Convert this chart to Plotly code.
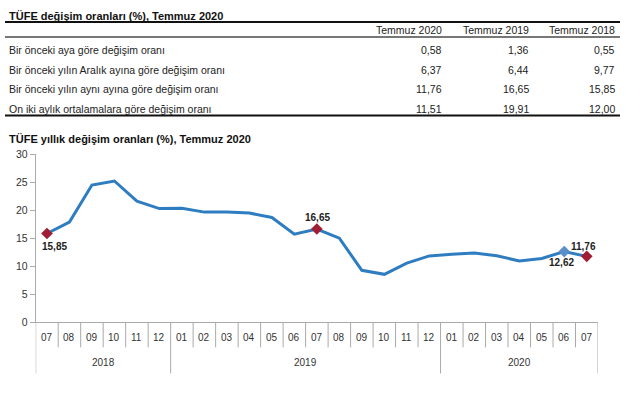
import plotly.graph_objects as go

# ---------------- data ----------------
table_title = "TÜFE değişim oranları (%), Temmuz 2020"
table_cols = ["Temmuz 2020", "Temmuz 2019", "Temmuz 2018"]
table_rows = [
    "Bir önceki aya göre değişim oranı",
    "Bir önceki yılın Aralık ayına göre değişim oranı",
    "Bir önceki yılın aynı ayına göre değişim oranı",
    "On iki aylık ortalamalara göre değişim oranı",
]
col_2020 = [0.58, 6.37, 11.76, 11.51]
col_2019 = [1.36, 6.44, 16.65, 19.91]
col_2018 = [0.55, 9.77, 15.85, 12.00]

chart_title = "TÜFE yıllık değişim oranları (%), Temmuz 2020"
months = ["07", "08", "09", "10", "11", "12",
          "01", "02", "03", "04", "05", "06", "07", "08", "09", "10", "11", "12",
          "01", "02", "03", "04", "05", "06", "07"]
years = ["2018", "2019", "2020"]
year_counts = [6, 12, 7]
annual_change = [15.85, 17.90, 24.52, 25.24, 21.62, 20.30,
                 20.35, 19.67, 19.71, 19.50, 18.71, 15.72, 16.65, 15.01, 9.26, 8.55, 10.56, 11.84,
                 12.15, 12.37, 11.86, 10.94, 11.39, 12.62, 11.76]
red_idx = [0, 12, 24]
blue_idx = [23]

# ---------------- helpers ----------------
W, H = 640, 396
FONT = "Liberation Sans, Arial, sans-serif"


def px(x):
    return x / W


def py(y):
    return 1 - y / H


def fmt(v):
    return f"{v:.2f}".replace(".", ",")


fig = go.Figure()
xs = list(range(len(months)))

fig.add_trace(go.Scatter(x=xs, y=annual_change, mode="lines",
                         line=dict(color="#2F7DC1", width=3), hoverinfo="skip"))
fig.add_trace(go.Scatter(x=[xs[i] for i in red_idx], y=[annual_change[i] for i in red_idx],
                         mode="markers", marker=dict(symbol="diamond", size=9, color="#A11D33"),
                         hoverinfo="skip"))
fig.add_trace(go.Scatter(x=[xs[i] for i in blue_idx], y=[annual_change[i] for i in blue_idx],
                         mode="markers", marker=dict(symbol="diamond", size=9, color="#5B8FCB"),
                         hoverinfo="skip"))

ann = []
shapes = []

# ---------------- table ----------------
ann.append(dict(x=px(7), y=py(10), xref="paper", yref="paper", text=f"<b>{table_title}</b>",
                showarrow=False, xanchor="left", yanchor="middle",
                font=dict(family=FONT, size=11, color="#111")))
shapes.append(dict(type="line", xref="paper", yref="paper", x0=px(5), x1=px(620),
                   y0=py(16.5), y1=py(16.5), line=dict(color="#111", width=2)))
shapes.append(dict(type="line", xref="paper", yref="paper", x0=px(5), x1=px(620),
                   y0=py(32), y1=py(32), line=dict(color="#777", width=2)))
shapes.append(dict(type="line", xref="paper", yref="paper", x0=px(5), x1=px(620),
                   y0=py(113), y1=py(113), line=dict(color="#111", width=2)))
col_right = [444, 531, 617]
for c, name in enumerate(table_cols):
    ann.append(dict(x=px(col_right[c]), y=py(24.5), xref="paper", yref="paper", text=name,
                    showarrow=False, xanchor="right", yanchor="middle",
                    font=dict(family=FONT, size=10.5, color="#222")))
row_y = [45, 66, 86, 106]
for r, label in enumerate(table_rows):
    ann.append(dict(x=px(7), y=py(row_y[r]), xref="paper", yref="paper", text=label,
                    showarrow=False, xanchor="left", yanchor="middle",
                    font=dict(family=FONT, size=10.5, color="#222")))
    for c, col in enumerate([col_2020, col_2019, col_2018]):
        ann.append(dict(x=px(col_right[c]), y=py(row_y[r]), xref="paper", yref="paper",
                        text=fmt(col[r]), showarrow=False, xanchor="right", yanchor="middle",
                        font=dict(family=FONT, size=10.5, color="#222")))

# ---------------- chart ----------------
ann.append(dict(x=px(7), y=py(137), xref="paper", yref="paper", text=f"<b>{chart_title}</b>",
                showarrow=False, xanchor="left", yanchor="middle",
                font=dict(family=FONT, size=11, color="#111")))

# month labels and dividers
for i, m in enumerate(months):
    ann.append(dict(x=i, y=py(341.5), xref="x", yref="paper", text=m, showarrow=False,
                    xanchor="center", yanchor="middle",
                    font=dict(family=FONT, size=10, color="#333")))
year_bounds = [-0.5]
for n in year_counts:
    year_bounds.append(year_bounds[-1] + n)
for i in range(1, len(months)):
    b = i - 0.5
    if b in year_bounds:
        continue
    shapes.append(dict(type="line", xref="x", yref="paper", x0=b, x1=b,
                       y0=py(326), y1=py(352), line=dict(color="#AAAAAA", width=1)))
for b in year_bounds:
    shapes.append(dict(type="line", xref="x", yref="paper", x0=b, x1=b,
                       y0=py(326), y1=py(379), line=dict(color="#AAAAAA", width=1)))
for k, yr in enumerate(years):
    ann.append(dict(x=(year_bounds[k] + year_bounds[k + 1]) / 2, y=py(367.5), xref="x", yref="paper",
                    text=yr, showarrow=False, xanchor="center", yanchor="middle",
                    font=dict(family=FONT, size=10, color="#333")))

# data labels
label_offsets = {0: (8, -13), 12: (1, 12), 23: (-3, -11), 24: (-3, 10)}
for i, (dx, dy) in label_offsets.items():
    ann.append(dict(x=i, y=annual_change[i], xref="x", yref="y", text=f"<b>{fmt(annual_change[i])}</b>",
                    showarrow=False, xanchor="center", yanchor="middle", xshift=dx, yshift=dy,
                    font=dict(family=FONT, size=10, color="#222")))

fig.update_layout(
    width=W, height=H,
    margin=dict(l=0, r=0, t=0, b=0),
    paper_bgcolor="white", plot_bgcolor="white",
    showlegend=False,
    annotations=ann, shapes=shapes,
    xaxis=dict(domain=[px(35.7), px(598)], range=[-0.5, len(months) - 0.5],
               showticklabels=False, showgrid=False, zeroline=False, ticks="",
               showline=True, linecolor="#AAAAAA", linewidth=1, fixedrange=True),
    yaxis=dict(domain=[py(326), py(153)], range=[0, 30], tickvals=[0, 5, 10, 15, 20, 25, 30],
               showgrid=False, zeroline=False, showline=True, linecolor="#AAAAAA", linewidth=1,
               ticks="outside", ticklen=5, tickcolor="#AAAAAA",
               tickfont=dict(family=FONT, size=10.5, color="#333"), fixedrange=True),
)

fig.write_html("out.html", config={"displayModeBar": False},
               post_script="document.body.style.margin='0';document.body.style.overflow='hidden';")
